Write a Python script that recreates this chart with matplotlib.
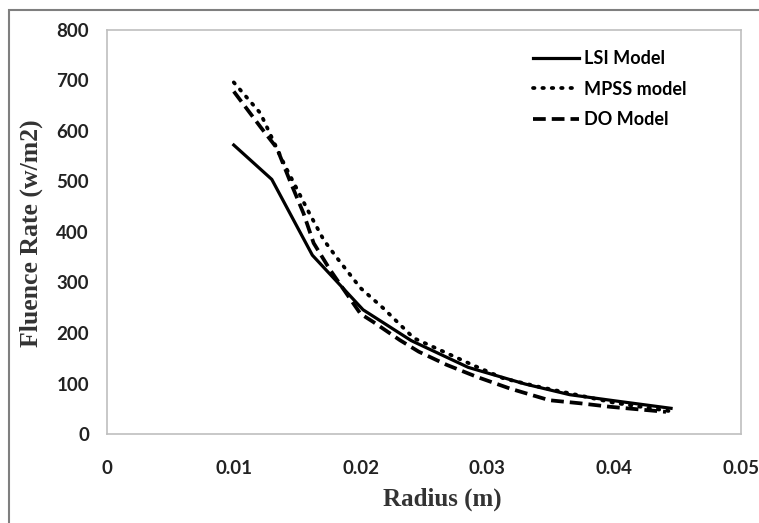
import numpy as np
import matplotlib.pyplot as plt
from matplotlib.patches import Rectangle

# values
lsi_x  = [0.0100, 0.0130, 0.0162, 0.0202, 0.0240, 0.0285, 0.0330, 0.0365, 0.0400, 0.0445]
lsi_y  = [572, 504, 354, 246, 185, 132, 99, 78, 66, 51]

mpss_x = [0.0100, 0.0121, 0.0140, 0.0159, 0.0171, 0.0181, 0.0200, 0.0218, 0.0242,
          0.0263, 0.0290, 0.0313, 0.0340, 0.0370, 0.0400, 0.0445]
mpss_y = [696, 635, 533, 440, 384, 350, 289, 249, 190, 166, 135, 110, 94, 78, 62, 45]

do_x   = [0.0100, 0.0121, 0.0134, 0.0144, 0.0155, 0.0163, 0.0176, 0.0200, 0.0210, 0.0231,
          0.0246, 0.0268, 0.0292, 0.0318, 0.0349, 0.0373, 0.0397, 0.0441]
do_y   = [678, 608, 566, 503, 437, 378, 325, 238, 222, 186, 163, 137, 113, 90, 67, 61, 54, 44]

series_names = ['LSI Model', 'MPSS model', 'DO Model']
x_ticks = [0, 0.01, 0.02, 0.03, 0.04, 0.05]
x_tick_labels = ['0', '0.01', '0.02', '0.03', '0.04', '0.05']
y_ticks = [0, 100, 200, 300, 400, 500, 600, 700, 800]

fig = plt.figure(figsize=(7.59, 5.23), dpi=100)
ax = fig.add_axes([0.141, 0.170, 0.835, 0.773])

ax.plot(lsi_x, lsi_y, color='black', lw=2.3, ls='-', label=series_names[0])
ax.plot(mpss_x, mpss_y, color='black', lw=2.7, ls=(0, (0.4, 2.1)),
        dash_capstyle='round', label=series_names[1])
ax.plot(do_x, do_y, color='black', lw=2.7, ls=(0, (3.4, 1.6)), label=series_names[2])

ax.set_xlim(0, 0.05)
ax.set_ylim(0, 800)
ax.set_xticks(x_ticks)
ax.set_xticklabels(x_tick_labels)
ax.set_yticks(y_ticks)

for s in ax.spines.values():
    s.set_color('#bfbfbf')
    s.set_linewidth(1.2)

ax.tick_params(axis='both', length=0)
ax.tick_params(axis='x', pad=19)
ax.tick_params(axis='y', pad=13)
for lab in ax.get_xticklabels() + ax.get_yticklabels():
    lab.set_fontfamily('Lato')
    lab.set_fontweight('bold')
    lab.set_fontsize(13.5)
    lab.set_color('#222222')

fig.text(442 / 759, 1 - 499 / 523, 'Radius (m)', ha='center', va='center',
         family='Liberation Serif', weight='bold', size=18, color='#333333')
fig.text(31 / 759, 1 - 233 / 523, 'Fluence Rate (w/m2)', ha='center', va='center',
         rotation=90, family='Liberation Serif', weight='bold', size=18.5, color='#333333')

leg = ax.legend(loc='upper right', bbox_to_anchor=(0.94, 0.99), frameon=False,
                handlelength=2.6, handletextpad=0.25, labelspacing=0.75,
                prop={'family': 'Lato', 'weight': 'bold', 'size': 13})

# outer chart border (cut off at right and bottom)
fig.patches.append(Rectangle((9 / 759, -0.1), 1.2, 1 - 10 / 523 + 0.1,
                             transform=fig.transFigure, fill=False,
                             edgecolor='#7f7f7f', lw=1.5))

fig.savefig('out.png', dpi=100)
